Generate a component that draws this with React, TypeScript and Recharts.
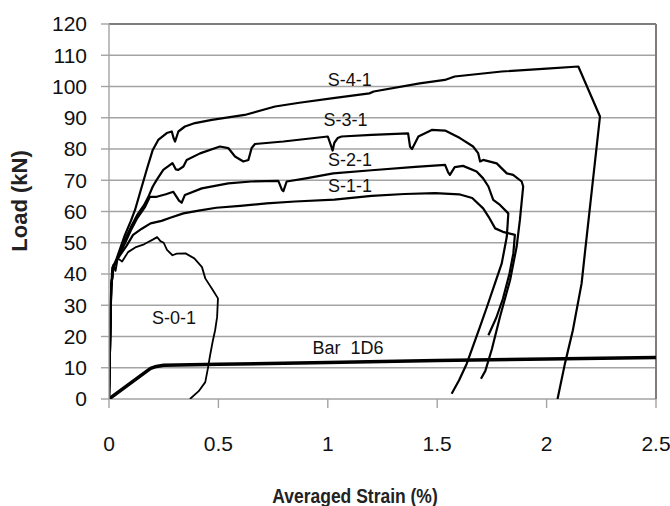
import { LineChart, Line, XAxis, YAxis, CartesianGrid, ReferenceLine, ReferenceDot } from 'recharts'

// strain (%) / load (kN) pairs
const S41_STRAIN = [0, 0.01, 0.02, 0.04, 0.07, 0.1, 0.119, 0.15, 0.175, 0.2, 0.225, 0.264, 0.287, 0.295, 0.302, 0.317, 0.347, 0.393, 0.47, 0.62, 0.759, 0.87, 1.025, 1.19, 1.21, 1.42, 1.535, 1.58, 1.795, 2.0, 2.145, 2.244, 2.175, 2.16, 2.12, 2.084, 2.05]
const S41_LOAD = [0, 36, 42, 46, 52, 57, 60.5, 68, 74, 79.7, 82.9, 85.1, 85.6, 83.5, 82.4, 85.6, 87.2, 88.3, 89.3, 90.9, 93.6, 94.8, 96.3, 97.8, 98.4, 101, 102.1, 103.2, 104.8, 105.7, 106.4, 90.4, 46.7, 37, 22, 11.4, 0]

const S31_STRAIN = [0, 0.01, 0.02, 0.04, 0.058, 0.08, 0.1, 0.13, 0.16, 0.18, 0.2, 0.218, 0.248, 0.29, 0.305, 0.317, 0.34, 0.355, 0.416, 0.507, 0.545, 0.576, 0.614, 0.637, 0.652, 0.667, 0.797, 1.0, 1.015, 1.022, 1.03, 1.045, 1.063, 1.2, 1.367, 1.376, 1.385, 1.414, 1.475, 1.536, 1.604, 1.664, 1.687, 1.696, 1.71, 1.772, 1.818, 1.847, 1.886, 1.893, 1.878, 1.863, 1.833, 1.787, 1.75, 1.72, 1.7]
const S31_LOAD = [0, 36, 42, 45, 48.7, 52, 55, 59, 62, 64.7, 68, 70.1, 73.3, 75.5, 73.5, 73.3, 74.4, 76.5, 78.6, 80.8, 80.3, 77.6, 76, 76.5, 80.3, 81.6, 82.4, 84, 81, 79.5, 82, 83.5, 84, 84.5, 85, 80.7, 80, 84, 86.1, 85.9, 83.5, 80.8, 78.7, 76, 76.5, 75.4, 72.2, 71.7, 69.6, 68, 57.3, 48.7, 38, 26.3, 16, 9, 6.5]

const S21_STRAIN = [0, 0.01, 0.02, 0.04, 0.073, 0.1, 0.13, 0.165, 0.187, 0.218, 0.26, 0.294, 0.32, 0.332, 0.347, 0.424, 0.545, 0.65, 0.774, 0.79, 0.797, 0.812, 0.9, 1.025, 1.2, 1.4, 1.536, 1.55, 1.558, 1.58, 1.618, 1.68, 1.71, 1.734, 1.756, 1.787, 1.825, 1.822, 1.818, 1.795, 1.764, 1.73, 1.695, 1.635, 1.6, 1.566]
const S21_LOAD = [0, 36, 42, 45, 49.8, 54, 58, 61.5, 64.7, 64.7, 65.5, 66.3, 63.5, 62.8, 65.3, 67.4, 69, 69.6, 69.8, 67, 66.5, 69.6, 70.6, 72.2, 73.2, 74.3, 74.9, 72.5, 71.7, 74.2, 74.6, 72.8, 70.6, 68, 63.7, 62.1, 59.4, 56, 51.9, 43.4, 37, 30, 23, 11.3, 6, 1.7]

const S11_STRAIN = [0, 0.01, 0.015, 0.03, 0.05, 0.08, 0.11, 0.15, 0.19, 0.24, 0.28, 0.34, 0.41, 0.49, 0.6, 0.72, 0.85, 1.03, 1.2, 1.35, 1.49, 1.6, 1.66, 1.71, 1.735, 1.765, 1.8, 1.855, 1.848, 1.83, 1.8, 1.77, 1.734]
const S11_LOAD = [0, 35, 42, 44, 46, 49, 52.5, 54.5, 56.2, 57, 58, 59.4, 60.3, 61.2, 61.8, 62.6, 63.2, 63.8, 65, 65.6, 65.9, 65.5, 64.3, 61, 58.3, 54.6, 53.5, 52.5, 46.6, 40, 32, 26, 20.4]

const S01_STRAIN = [0, 0.008, 0.014, 0.02, 0.03, 0.04, 0.06, 0.087, 0.12, 0.16, 0.2, 0.22, 0.235, 0.25, 0.265, 0.29, 0.31, 0.35, 0.39, 0.425, 0.44, 0.475, 0.498, 0.494, 0.485, 0.475, 0.462, 0.452, 0.44, 0.41, 0.37]
const S01_LOAD = [0, 30, 40, 43, 41, 45, 44, 47, 48.5, 49.5, 51, 51.8, 50.5, 50, 47.7, 46, 46.5, 46.6, 45, 42.2, 38.6, 34.8, 32.2, 26.2, 22, 18.8, 14, 9.8, 5.4, 2.5, 0]

const BAR_STRAIN = [0, 0.19, 0.21, 0.25, 0.5, 1, 1.5, 2, 2.5]
const BAR_LOAD = [0, 9.8, 10.3, 10.8, 11.1, 11.7, 12.3, 12.8, 13.3]

const X_TICKS = [0, 0.5, 1, 1.5, 2, 2.5]
const Y_TICKS = [0, 10, 20, 30, 40, 50, 60, 70, 80, 90, 100, 110, 120]

function toPoints(strain: number[], load: number[]) {
  return strain.map((s, i) => ({ strain: s, load: load[i] }))
}

const SERIES = [
  { name: 'S-4-1', data: toPoints(S41_STRAIN, S41_LOAD), width: 2.2 },
  { name: 'S-3-1', data: toPoints(S31_STRAIN, S31_LOAD), width: 2.2 },
  { name: 'S-2-1', data: toPoints(S21_STRAIN, S21_LOAD), width: 2.2 },
  { name: 'S-1-1', data: toPoints(S11_STRAIN, S11_LOAD), width: 2.2 },
  { name: 'S-0-1', data: toPoints(S01_STRAIN, S01_LOAD), width: 1.8 },
  { name: 'Bar 1D6', data: toPoints(BAR_STRAIN, BAR_LOAD), width: 3.5 },
]

const FONT = "'Liberation Sans', Arial, sans-serif"
const GRID = '#a3a3a3'
const FRAME = '#7d7d7d'
const INK = '#111'

function seriesLabel(value: string) {
  return { value, position: 'center' as const, fill: INK, fontSize: 18, fontFamily: FONT }
}

export default function App(): React.ReactElement {
  return (
    <div style={{ position: 'absolute', left: 0, top: 0, width: 670, height: 506, background: '#fff' }}>
      <LineChart
        width={670}
        height={506}
        margin={{ top: 24, right: 14, bottom: 0, left: 0 }}
        style={{ fontFamily: FONT }}
      >
        <CartesianGrid vertical={false} stroke={GRID} strokeWidth={1.4} />
        <XAxis
          type="number"
          dataKey="strain"
          domain={[0, 2.5]}
          ticks={X_TICKS}
          height={107}
          tickSize={9}
          tickMargin={28}
          axisLine={false}
          tickLine={{ stroke: GRID, strokeWidth: 1.4 }}
          tick={{ fill: INK, fontSize: 21, fontFamily: FONT }}
          allowDataOverflow
        />
        <YAxis
          type="number"
          domain={[0, 120]}
          ticks={Y_TICKS}
          width={109}
          tickSize={8}
          tickMargin={14}
          axisLine={{ stroke: GRID, strokeWidth: 1.4 }}
          tickLine={{ stroke: GRID, strokeWidth: 1.4 }}
          tick={{ fill: INK, fontSize: 21, fontFamily: FONT }}
          allowDataOverflow
        />
        <ReferenceLine y={120} stroke={FRAME} strokeWidth={2} />
        <ReferenceLine x={2.5} stroke={FRAME} strokeWidth={2} />

        {SERIES.map(s => (
          <Line
            key={s.name}
            data={s.data}
            dataKey="load"
            type="linear"
            stroke="#000"
            strokeWidth={s.width}
            strokeLinejoin="round"
            dot={false}
            activeDot={false}
            isAnimationActive={false}
          />
        ))}

        {/* curve names, anchored in data units */}
        <ReferenceDot x={1.1} y={102.1} r={1} fill="none" stroke="none" label={seriesLabel('S-4-1')} />
        <ReferenceDot x={1.081} y={89.3} r={1} fill="none" stroke="none" label={seriesLabel('S-3-1')} />
        <ReferenceDot x={1.101} y={76.7} r={1} fill="none" stroke="none" label={seriesLabel('S-2-1')} />
        <ReferenceDot x={1.101} y={68.2} r={1} fill="none" stroke="none" label={seriesLabel('S-1-1')} />
        <ReferenceDot x={0.297} y={25.9} r={1} fill="none" stroke="none" label={seriesLabel('S-0-1')} />
        <ReferenceDot x={1.092} y={16.3} r={1} fill="none" stroke="none" label={seriesLabel('Bar\u00a0\u00a01D6')} />

        <text
          transform="translate(355, 503) scale(1, 1.2)"
          textAnchor="middle"
          fontFamily={FONT}
          fontSize={17.5}
          fontWeight="bold"
          fill="#222"
        >
          Averaged Strain (%)
        </text>
        <text
          transform="translate(27, 201) rotate(-90)"
          textAnchor="middle"
          fontFamily={FONT}
          fontSize={22}
          fontWeight="bold"
          fill="#222"
        >
          Load (kN)
        </text>
      </LineChart>
    </div>
  )
}
